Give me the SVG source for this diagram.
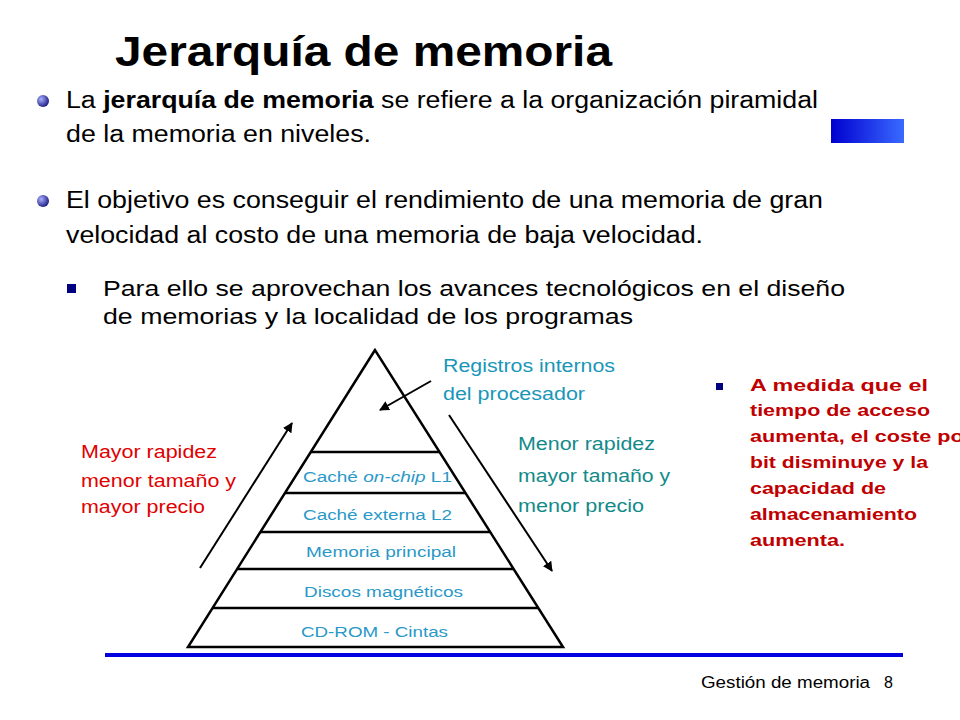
<svg xmlns="http://www.w3.org/2000/svg" width="960" height="720" viewBox="0 0 960 720">
<defs>
<marker id="ah" viewBox="0 0 10 10" refX="9" refY="5" markerWidth="5" markerHeight="5" orient="auto"><path d="M0,0L10,5L0,10z" fill="#000"/></marker>
<radialGradient id="bul" cx="0.35" cy="0.35" r="0.7"><stop offset="0" stop-color="#aab0ff"/><stop offset="1" stop-color="#1a1a80"/></radialGradient>
<linearGradient id="blk" x1="0" x2="1"><stop offset="0" stop-color="#0000d0"/><stop offset="1" stop-color="#3a6aff"/></linearGradient>
<style>
text{font-family:"Liberation Sans",Arial,sans-serif}
.b{font-size:23.5px;fill:#000}
.p{font-size:15.5px;fill:#2a98c8}
.ln{stroke:#000;stroke-width:2.5;fill:none}
</style>
</defs>
<text x="115" y="66" font-size="42" font-weight="bold" textLength="497" lengthAdjust="spacingAndGlyphs">Jerarquía de memoria</text>
<rect x="831" y="119" width="73" height="24" fill="url(#blk)"/>
<circle cx="43" cy="101" r="6" fill="url(#bul)"/>
<circle cx="43" cy="201" r="6" fill="url(#bul)"/>
<text class="b" x="66" y="108" textLength="752" lengthAdjust="spacingAndGlyphs">La <tspan font-weight="bold">jerarquía de memoria</tspan> se refiere a la organización piramidal</text>
<text class="b" x="66" y="142" textLength="305" lengthAdjust="spacingAndGlyphs">de la memoria en niveles.</text>
<text class="b" x="66" y="208" textLength="757" lengthAdjust="spacingAndGlyphs">El objetivo es conseguir el rendimiento de una memoria de gran</text>
<text class="b" x="66" y="243" textLength="637" lengthAdjust="spacingAndGlyphs">velocidad al costo de una memoria de baja velocidad.</text>
<rect x="67" y="284" width="9" height="9" fill="#000080"/>
<text x="103" y="296" font-size="22" textLength="742" lengthAdjust="spacingAndGlyphs">Para ello se aprovechan los avances tecnológicos en el diseño</text>
<text x="103" y="324" font-size="22" textLength="530" lengthAdjust="spacingAndGlyphs">de memorias y la localidad de los programas</text>
<g id="pyramid">
<path class="ln" d="M375,350L188,647H563Z"/>
<path class="ln" d="M311,452H439M285,493H465M260,532H490M237,569H513M212,608H538"/>
</g>
<g id="levels">
<text class="p" x="303" y="482" textLength="149" lengthAdjust="spacingAndGlyphs">Caché <tspan font-style="italic">on-chip</tspan> L1</text>
<text class="p" x="303" y="520" textLength="149" lengthAdjust="spacingAndGlyphs">Caché externa L2</text>
<text class="p" x="306" y="557" textLength="150" lengthAdjust="spacingAndGlyphs">Memoria principal</text>
<text class="p" x="304" y="597" textLength="159" lengthAdjust="spacingAndGlyphs">Discos magnéticos</text>
<text class="p" x="301" y="637" textLength="147" lengthAdjust="spacingAndGlyphs">CD-ROM - Cintas</text>
</g>
<g id="connectors">
<line x1="200" y1="568" x2="292" y2="423" stroke="#000" stroke-width="2" marker-end="url(#ah)"/>
<line x1="449" y1="415" x2="552" y2="571" stroke="#000" stroke-width="2" marker-end="url(#ah)"/>
<line x1="431" y1="381" x2="380" y2="410" stroke="#000" stroke-width="2" marker-end="url(#ah)"/>
</g>
<g id="labels" font-size="17.5">
<text x="443" y="372" fill="#1a96b8" textLength="172" lengthAdjust="spacingAndGlyphs">Registros internos</text>
<text x="443" y="400" fill="#1a96b8" textLength="142" lengthAdjust="spacingAndGlyphs">del procesador</text>
<text x="81" y="458" fill="#e00000" textLength="136" lengthAdjust="spacingAndGlyphs">Mayor rapidez</text>
<text x="81" y="487" fill="#e00000" textLength="155" lengthAdjust="spacingAndGlyphs">menor tamaño y</text>
<text x="81" y="513" fill="#e00000" textLength="124" lengthAdjust="spacingAndGlyphs">mayor precio</text>
<text x="518" y="450" fill="#138a8a" textLength="137" lengthAdjust="spacingAndGlyphs">Menor rapidez</text>
<text x="518" y="482" fill="#138a8a" textLength="152" lengthAdjust="spacingAndGlyphs">mayor tamaño y</text>
<text x="518" y="512" fill="#138a8a" textLength="126" lengthAdjust="spacingAndGlyphs">menor precio</text>
</g>
<rect x="716" y="383" width="7" height="7" fill="#000080"/>
<g font-size="17" font-weight="bold" fill="#c00000">
<text x="750" y="391" textLength="178" lengthAdjust="spacingAndGlyphs">A medida que el</text>
<text x="750" y="416" textLength="180" lengthAdjust="spacingAndGlyphs">tiempo de acceso</text>
<text x="750" y="442" textLength="222" lengthAdjust="spacingAndGlyphs">aumenta, el coste por</text>
<text x="750" y="468" textLength="178" lengthAdjust="spacingAndGlyphs">bit disminuye y la</text>
<text x="750" y="494" textLength="136" lengthAdjust="spacingAndGlyphs">capacidad de</text>
<text x="750" y="520" textLength="167" lengthAdjust="spacingAndGlyphs">almacenamiento</text>
<text x="750" y="546" textLength="95" lengthAdjust="spacingAndGlyphs">aumenta.</text>
</g>
<rect x="105" y="653" width="798" height="4" fill="#0000e0"/>
<text x="701" y="688" font-size="16" textLength="169" lengthAdjust="spacingAndGlyphs">Gestión de memoria</text>
<text x="884" y="688" font-size="16">8</text>
</svg>
